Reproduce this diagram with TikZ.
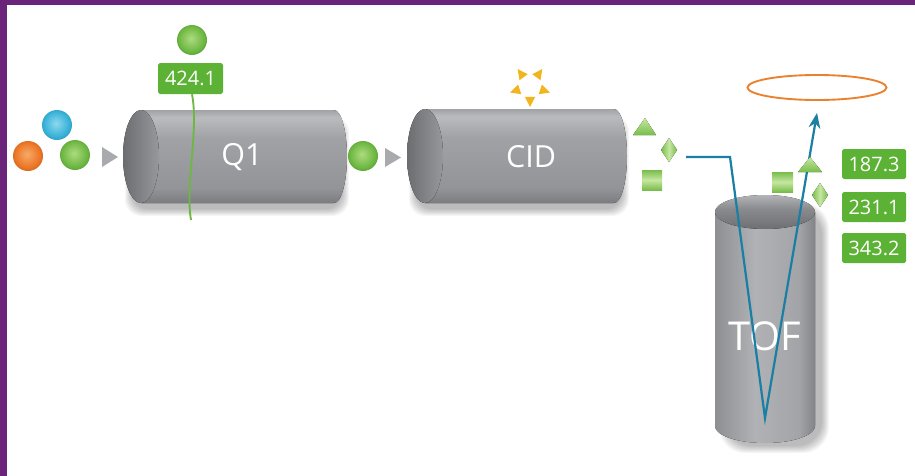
\documentclass[tikz,border=0pt]{standalone}
\usepackage{fontspec}
\setmainfont{Open Sans}
\usetikzlibrary{arrows.meta}

\definecolor{framec}{HTML}{6A2479}
\definecolor{tagc}{HTML}{5CB234}
\definecolor{ionc}{HTML}{6DB842}
\definecolor{ionhi}{HTML}{AEDB80}
\definecolor{bluec}{HTML}{38B2D8}
\definecolor{bluehi}{HTML}{8ED8EF}
\definecolor{orangec}{HTML}{EC7526}
\definecolor{orangehi}{HTML}{F7AA68}
\definecolor{beamc}{HTML}{1A7FA2}
\definecolor{ringc}{HTML}{E9812F}
\definecolor{sparkc}{HTML}{F2B51E}
\definecolor{pointerc}{HTML}{A9AAAE}
\definecolor{fragdark}{HTML}{78BD4A}
\definecolor{fraglight}{HTML}{C6E7A2}
% cylinder greys
\definecolor{ca}{HTML}{BABBBF}
\definecolor{cb}{HTML}{A1A2A6}
\definecolor{cc}{HTML}{939498}
\definecolor{cd}{HTML}{7B7C80}
\definecolor{fa}{HTML}{6C6D71}
\definecolor{fb}{HTML}{97989C}
\definecolor{va}{HTML}{8E8F93}
\definecolor{vb}{HTML}{B1B2B6}
\definecolor{vc}{HTML}{A3A4A8}
\definecolor{vd}{HTML}{838488}
\definecolor{ta}{HTML}{B3B4B8}
\definecolor{tb}{HTML}{8A8B8F}
\definecolor{tc}{HTML}{6E6F73}

% side of a lying cylinder (bottom to top)
\pgfdeclareverticalshading{hbody}{100bp}{color(0bp)=(cd); color(25bp)=(cd); color(33bp)=(cc); color(60bp)=(cb); color(71bp)=(ca); color(75bp)=(cb); color(100bp)=(cb)}
% open end of a lying cylinder (left to right)
\pgfdeclarehorizontalshading{hface}{100bp}{color(0bp)=(fa); color(25bp)=(fa); color(75bp)=(fb); color(100bp)=(fb)}
% side of the standing cylinder (left to right)
\pgfdeclarehorizontalshading{vbody}{100bp}{color(0bp)=(va); color(25bp)=(va); color(45bp)=(vb); color(67bp)=(vc); color(75bp)=(vd); color(100bp)=(vd)}
% top of the standing cylinder (bottom to top)
\pgfdeclareverticalshading{vtop}{100bp}{color(0bp)=(tc); color(25bp)=(tc); color(55bp)=(tb); color(75bp)=(ta); color(100bp)=(ta)}
% ions
\pgfdeclareradialshading{greenball}{\pgfpoint{-2bp}{3bp}}{color(0bp)=(ionhi); color(21bp)=(ionc); color(25bp)=(ionc!92!black); color(50bp)=(ionc)}
\pgfdeclareradialshading{blueball}{\pgfpoint{-2bp}{3bp}}{color(0bp)=(bluehi); color(21bp)=(bluec); color(25bp)=(bluec!92!black); color(50bp)=(bluec)}
\pgfdeclareradialshading{orangeball}{\pgfpoint{-2bp}{3bp}}{color(0bp)=(orangehi); color(21bp)=(orangec); color(25bp)=(orangec!92!black); color(50bp)=(orangec)}

\tikzset{
  ionball/.style={circle, minimum size=0.9cm, inner sep=0pt},
  tag/.style={fill=tagc, text=white, rounded corners=1.5pt, minimum width=1.92cm,
              minimum height=0.9cm, inner sep=0pt, font=\fontsize{17}{17}\selectfont},
  devname/.style={text=white, inner sep=0pt, font=\fontsize{26}{26}\selectfont},
  pointer/.style={fill=pointerc},
  beam/.style={draw=beamc, line width=1.9pt, line join=miter,
               -{Stealth[length=13pt, width=10pt]}},
  ring/.style={draw=ringc, line width=1.6pt},
  spark/.style={fill=sparkc},
  fragtri/.style={top color=fraglight, bottom color=fragdark},
  fragdia/.style={left color=fragdark, right color=fragdark, middle color=fraglight},
  fragsq/.style={top color=fragdark, bottom color=fragdark, middle color=fraglight},
  shadowlayer/.style={fill=black, opacity=0.035},
}

% soft shadow: corners x1 y1 x2 y2, corner radius
\newcommand{\softshadow}[5]{%
  \foreach \k in {0,...,7}
    \fill[shadowlayer, rounded corners=#5] (#1+\k,#2+\k) rectangle (#3-\k,#4-\k);
}

% lying cylinder: open end centre x, far end centre x, axis y, half height
% (the rectangle runs the same way round as the ellipse, so both fill as one)
\newcommand{\lyingcyl}[4]{%
  \softshadow{#1-16}{#3-#4+6}{#2+15}{#3+#4+13}{14pt}
  \fill[shading=hbody] (#2,#3-#4) rectangle (#1,#3+#4)
                       (#2,#3) ellipse [x radius=13, y radius=#4];
  \fill[shading=hface] (#1,#3) ellipse [x radius=18, y radius=#4];
}

\begin{document}
\begin{tikzpicture}[x=0.03cm, y=-0.03cm]
\useasboundingbox (0,0) rectangle (915,476);
\fill[white] (0,0) rectangle (915,476);
% frame
\fill[framec] (0,0) rectangle (7,476);
\fill[framec] (0,0) rectangle (915,5);

% quadrupole and collision cell
\lyingcyl{141}{334}{156.5}{46.5}
\lyingcyl{425}{614}{156}{47}
\node[devname] (q1) at (242,157) {Q1};
\node[devname] (cid) at (531,157) {CID};

% time-of-flight tube
\softshadow{719}{203}{829}{453}{22pt}
\fill[shading=vbody] (815,212) rectangle (715,426)
                     (765,426) ellipse [x radius=50, y radius=17];
\fill[shading=vtop] (765,212) ellipse [x radius=50, y radius=17];
\node[devname, font=\fontsize{34}{34}\selectfont] (tof) at (765,336) {TOF};

% incoming ions
\node[ionball, shading=blueball] (ionb) at (57,125) {};
\node[ionball, shading=orangeball] (iono) at (28,156) {};
\node[ionball, shading=greenball] (iong) at (75,155) {};
\fill[pointer] (102,147) -- (118,157) -- (102,167) -- cycle;

% selected precursor
\node[ionball, shading=greenball] (prec) at (192,40) {};
\node[tag, minimum width=1.95cm, minimum height=0.93cm] (m424) at (190.5,78.5) {424.1};
\coordinate (cut) at (191,220);
\draw[ionc, line width=1.6pt] (m424.south -| 192,0) .. controls (199,130) and (185,185) .. (cut);

\node[ionball, shading=greenball] (prec2) at (363,156) {};
\fill[pointer] (385,148) -- (401,157.5) -- (385,167) -- cycle;

% collision energy burst
\foreach \a in {18,90,162,234,306}
  \fill[spark, shift={(530,86)}] (\a:21) -- (\a+25:12) -- (\a-25:12) -- cycle;

% fragments leaving the cell
\fill[fragtri] (645,118) -- (656,135) -- (633,135) -- cycle;
\fill[fragdia] (669,138) -- (677,150) -- (669,162) -- (661,150) -- cycle;
\fill[fragsq] (642,170) rectangle (662,190);

% flight path
\coordinate (b0) at (686,157);
\coordinate (b1) at (730,157);
\coordinate (b2) at (765,418);
\coordinate (b3) at (817,113);
\draw[beam] (b0) -- (b1) -- (b2) -- (b3);

% detector
\draw[ring] (817,87.5) ellipse [x radius=69.5, y radius=12.5];

% fragments in the flight tube
\fill[fragsq] (772,172) rectangle (793,192);
\fill[fragtri] (810,157) -- (822,172) -- (798,172) -- cycle;
\fill[fragdia] (820,183) -- (828,195) -- (820,207) -- (812,195) -- cycle;

% fragment masses
\node[tag] (m187) at (874,164) {187.3};
\node[tag] (m231) at (874,207) {231.1};
\node[tag] (m343) at (874,248) {343.2};
\end{tikzpicture}
\end{document}
